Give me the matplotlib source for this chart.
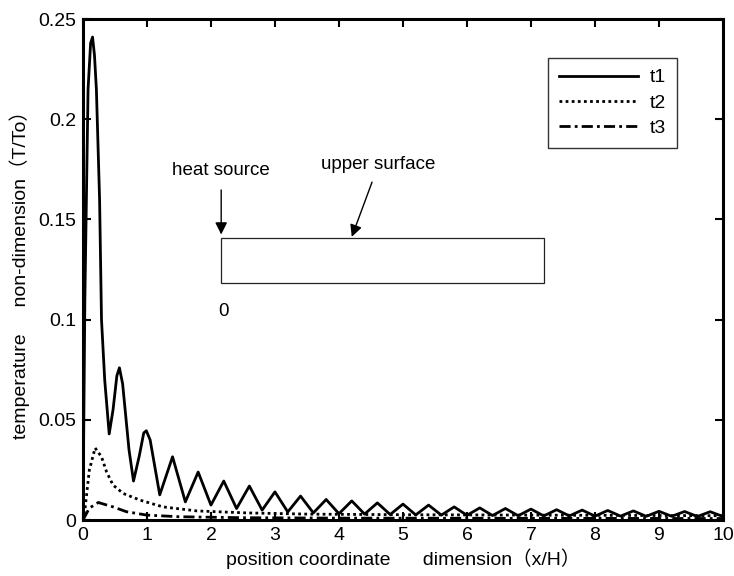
import matplotlib

matplotlib.use("Agg")
import matplotlib.pyplot as plt
import numpy as np
from matplotlib.patches import Rectangle

plt.rcParams.update(
    {
        "font.family": ["Liberation Sans", "Noto Sans CJK SC", "DejaVu Sans"],
        "font.size": 13,
    }
)

# ── данные ───────────────────────────────────────────────────────────────────
# t1: главный пик у источника
t1_head_x = [0.0, 0.03, 0.08, 0.12, 0.15, 0.18, 0.21, 0.26, 0.29, 0.34, 0.41,
             0.47, 0.53, 0.57, 0.62, 0.72, 0.79, 0.88, 0.95, 0.99, 1.05]
t1_head_y = [0.0, 0.11, 0.215, 0.238, 0.241, 0.232, 0.215, 0.16, 0.10, 0.07,
             0.043, 0.055, 0.072, 0.076, 0.068, 0.035, 0.0195, 0.032, 0.0435,
             0.0446, 0.040]
# t1: затухающие колебания
t1_trough_x = [1.2, 1.6, 2.0, 2.4, 2.8, 3.2, 3.6, 4.0, 4.4, 4.8, 5.2, 5.6,
               6.0, 6.4, 6.8, 7.2, 7.6, 8.0, 8.4, 8.8, 9.2, 9.6, 10.0]
t1_trough_y = [0.0126, 0.0091, 0.0075, 0.0058, 0.0050, 0.0041, 0.0036, 0.0032,
               0.0030, 0.0028, 0.0026, 0.0025, 0.0024, 0.0023, 0.0022, 0.0021,
               0.0021, 0.0020, 0.0020, 0.0019, 0.0019, 0.0018, 0.0018]
t1_peak_x = [1.4, 1.8, 2.2, 2.6, 3.0, 3.4, 3.8, 4.2, 4.6, 5.0, 5.4, 5.8,
             6.2, 6.6, 7.0, 7.4, 7.8, 8.2, 8.6, 9.0, 9.4, 9.8]
t1_peak_y = [0.0316, 0.024, 0.0195, 0.017, 0.0141, 0.012, 0.0103, 0.0096,
             0.0086, 0.0080, 0.0075, 0.0066, 0.0061, 0.0058, 0.0055, 0.0052,
             0.0050, 0.0048, 0.0046, 0.0044, 0.0043, 0.0042]

t2_x = [0.0, 0.03, 0.10, 0.19, 0.29, 0.37, 0.47, 0.63, 0.89, 1.25, 1.78,
        2.56, 3.5, 5.0, 7.0, 10.0]
t2_y = [0.0, 0.005, 0.025, 0.036, 0.0316, 0.024, 0.0175, 0.0133, 0.010,
        0.0066, 0.0046, 0.0036, 0.0030, 0.0027, 0.0025, 0.0022]

t3_x = [0.0, 0.10, 0.24, 0.47, 0.68, 1.0, 1.5, 2.5, 4.0, 10.0]
t3_y = [0.0, 0.006, 0.0088, 0.0066, 0.0042, 0.0025, 0.0017, 0.0012, 0.0010,
        0.0008]

# t1 целиком: голова + чередование впадин и пиков
osc_x = np.concatenate([t1_trough_x, t1_peak_x])
osc_y = np.concatenate([t1_trough_y, t1_peak_y])
order = np.argsort(osc_x)
t1_x = np.concatenate([t1_head_x, osc_x[order]])
t1_y = np.concatenate([t1_head_y, osc_y[order]])

fig = plt.figure(figsize=(7.34, 5.76), dpi=100)
ax = fig.add_axes([0.113, 0.097, 0.872, 0.870])

ax.plot(t1_x, t1_y, color="black", lw=2.0, solid_joinstyle="round", label="t1")
ax.plot(t2_x, t2_y, color="black", lw=2.0, linestyle=(0, (1, 1.2)), label="t2")
ax.plot(t3_x, t3_y, color="black", lw=2.0, linestyle=(0, (4, 1.5, 1, 1.5)), label="t3")

# схема образца
ax.add_patch(Rectangle((2.16, 0.1183), 5.04, 0.0224, fill=False,
                       edgecolor="#222222", lw=0.9))
ax.text(2.2, 0.104, "0", ha="center", va="center", fontsize=13.5)
ax.annotate("heat source", xy=(2.16, 0.1425), xytext=(2.16, 0.1745),
            ha="center", va="center", fontsize=13.5,
            arrowprops=dict(arrowstyle="-|>", color="black", lw=1,
                            mutation_scale=18, shrinkA=6, shrinkB=0))
ax.annotate("upper surface", xy=(4.2, 0.1413), xytext=(4.62, 0.1775),
            ha="center", va="center", fontsize=13.5,
            arrowprops=dict(arrowstyle="-|>", color="black", lw=1,
                            mutation_scale=18, shrinkA=5, shrinkB=0))

ax.set_xlim(0, 10)
ax.set_ylim(0, 0.25)
ax.set_xticks(np.arange(0, 11, 1))
ax.set_yticks([0, 0.05, 0.1, 0.15, 0.2, 0.25])
ax.set_yticklabels(["0", "0.05", "0.1", "0.15", "0.2", "0.25"])
ax.tick_params(direction="in", top=True, right=True, length=6, width=1.5,
               labelsize=14, pad=5)
for sp in ax.spines.values():
    sp.set_linewidth(2.2)

ax.set_xlabel("position coordinate      dimension（x/H）", fontsize=14, labelpad=3)
ax.set_ylabel("temperature     non-dimension（T/To）", fontsize=14, labelpad=6)

leg = ax.legend(loc="upper right", bbox_to_anchor=(0.928, 0.922), fontsize=14,
                frameon=True, fancybox=False, handlelength=4.1,
                borderpad=0.55, labelspacing=0.4, handletextpad=0.6,
                borderaxespad=0.0)
leg.get_frame().set_edgecolor("black")
leg.get_frame().set_linewidth(1.0)

fig.savefig("out.png", dpi=100)
